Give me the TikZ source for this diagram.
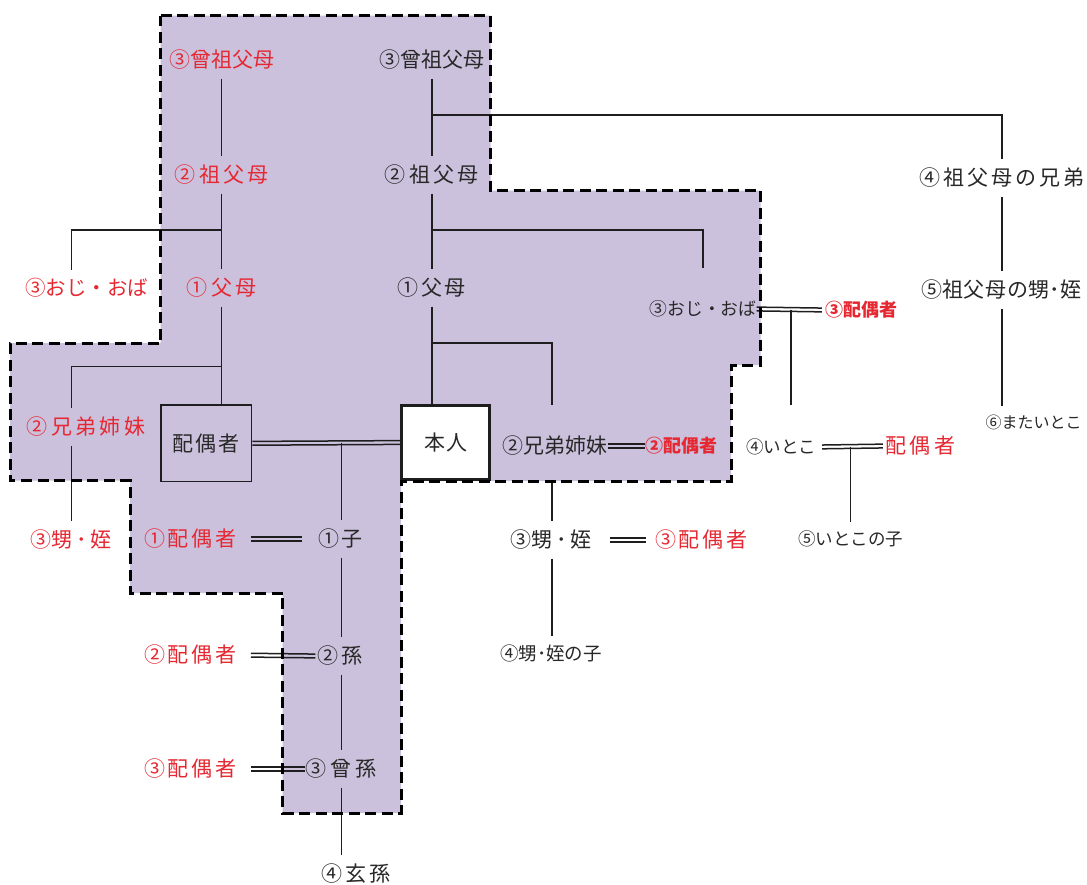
\documentclass[tikz,border=0pt]{standalone}
\usepackage{fontspec}
\setmainfont{Noto Sans CJK JP}
\usetikzlibrary{calc}
\definecolor{lav}{RGB}{204,193,221}
\definecolor{jred}{RGB}{230,40,50}
\definecolor{jblk}{RGB}{40,40,40}
\definecolor{lnc}{RGB}{30,30,30}
\makeatletter
\newcommand\lsp[2]{\def\lsp@k{#1}\lsp@a#2\relax}
\def\lsp@a#1{#1\lsp@b}
\def\lsp@b#1{\ifx\relax#1\else\kern\lsp@k\relax#1\expandafter\lsp@b\fi}
\makeatother
\newcommand\fsz[1]{\fontsize{#1pt}{#1pt}\selectfont}
\newcommand\cjkstrut{\rule[-0.12em]{0pt}{1em}}
\tikzset{
  lbl/.style={inner xsep=0pt, inner ysep=8pt, text=jblk, font=\fsz{#1}, execute at begin node=\cjkstrut},
  lbl/.default=21,
  rlbl/.style={lbl=#1, text=jred},
  rlbl/.default=21,
  rblbl/.style={rlbl=#1, font=\fsz{#1}\bfseries},
  rblbl/.default=18,
  boxn/.style={inner sep=0pt, text=jblk, font=\fsz{21}, draw=lnc, execute at begin node=\cjkstrut},
  ln/.style={draw=lnc, line width=1.2pt},
  lnb/.style={draw=lnc, line width=1.8pt},
  dl/.style={draw=lnc, line width=1.5pt},
  outline/.style={draw=black, line width=3pt, dash pattern=on 11pt off 5.5pt},
}
\newcommand\dbl[3][]{%
  \draw[dl,#1,transform canvas={yshift=1.9pt}] (#2) -- (#3);
  \draw[dl,#1,transform canvas={yshift=-1.9pt}] (#2) -- (#3);}
\begin{document}
\begin{tikzpicture}[x=1pt,y=-1pt]
\fill[white] (0,0) rectangle (1087,884);
\useasboundingbox (0,0) rectangle (1087,884);
% shaded region
\fill[lav] (160.7,15.7) -- (490.7,15.7) -- (490.7,190.7) -- (760.7,190.7) -- (760.7,365) -- (731,365) -- (731,481) -- (401,481) -- (401,813) -- (282.7,813) -- (282.7,593) -- (130,593) -- (130,480.5) -- (10,480.5) -- (10,343) -- (160.7,343) -- cycle;
% labels
\node[rlbl] (ggR) at (221.7,60) {③曾祖父母};
\node[lbl] (ggB) at (431.7,60) {③曾祖父母};
\node[rlbl] (gpR) at (221.7,175) {\lsp{3.3pt}{②祖父母}};
\node[lbl] (gpB) at (431.7,175) {\lsp{3.3pt}{②祖父母}};
\node[lbl] (gsib) at (1002,178) {\lsp{3pt}{④祖父母の兄弟}};
\node[lbl] (gneph) at (1001,290) {\lsp{0.5pt}{⑤祖父母の甥}･姪};
\node[lbl=16] (mata) at (1033.5,422) {⑥またいとこ};
\node[rlbl=20.5] (ojiR) at (86.5,288) {③おじ・おば};
\node[rlbl] (fuboR) at (221.7,288) {\lsp{3.5pt}{①父母}};
\node[lbl] (fuboB) at (431.7,288) {\lsp{2.5pt}{①父母}};
\node[lbl=17.8] (ojiB) at (703,309) {③おじ・おば};
\node[rblbl=18] (ojiSp) at (861,310) {③配偶者};
\node[boxn, fill=lav, line width=1.6pt, minimum width=90.7pt, minimum height=76.7pt] (haigusha) at (206.3,443.3) {\lsp{2pt}{配偶者}};
\node[boxn, fill=white, line width=3pt, minimum width=88pt, minimum height=74.5pt] (honnin) at (445.8,442.5) {\lsp{1.5pt}{本人}};
\node[rlbl] (sibR) at (86,427) {\lsp{3.3pt}{②兄弟姉妹}};
\node[rlbl] (neiR) at (71,540) {③甥\kern4pt･\kern4pt姪};
\node[lbl] (sibB) at (555,446) {②兄弟姉妹};
\node[rblbl=18] (sibSp) at (681,446) {②配偶者};
\node[lbl] (neiB) at (551,540) {③甥\kern4pt･\kern4pt姪};
\node[rlbl] (neiSp) at (701.5,540) {\lsp{3pt}{③配偶者}};
\node[lbl=18.5] (neiCh) at (551,653) {④甥･姪の子};
\node[lbl=17.5] (itoko) at (781,447) {④いとこ};
\node[rlbl] (itokoSp) at (920,446) {\lsp{3.5pt}{配偶者}};
\node[lbl=17.5] (itokoCh) at (850.5,539) {⑤いとこの子};
\node[rlbl] (sp1) at (190.5,539) {\lsp{3pt}{①配偶者}};
\node[lbl] (ko) at (340.5,539) {\lsp{3pt}{①子}};
\node[rlbl] (sp2) at (190.5,655) {\lsp{3pt}{②配偶者}};
\node[lbl] (mago) at (340,656) {\lsp{4pt}{②孫}};
\node[rlbl] (sp3) at (190.5,769) {\lsp{3pt}{③配偶者}};
\node[lbl] (himago) at (341,769) {\lsp{4.5pt}{③曾孫}};
\node[lbl] (genson) at (356,874) {\lsp{3pt}{④玄孫}};
% spouse-side ancestors (thin)
\draw[ln] (ggR.south) -- (gpR.north);
\draw[ln] (gpR.south) -- (fuboR.north);
\coordinate (jr1) at (221.7,230);
\coordinate (cr1) at (71.7,230);
\draw[ln] (jr1) -- (cr1) -- (cr1 |- ojiR.north);
\draw[ln] (fuboR.south) -- (fuboR.south |- haigusha.north);
\coordinate (jr2) at (221.7,366.7);
\coordinate (cr2) at (71.7,366.7);
\draw[ln] (jr2) -- (cr2) -- (cr2 |- sibR.north);
\draw[ln] (cr2 |- sibR.south) -- (cr2 |- neiR.north);
% own ancestors
\draw[lnb] (ggB.south) -- (gpB.north);
\draw[lnb] (gpB.south) -- (fuboB.north);
\draw[lnb] (fuboB.south) -- (fuboB.south |- honnin.north);
\coordinate (jb1) at (431.7,115);
\draw[lnb] (jb1) -| (gsib.north);
\draw[ln] (gsib.south) -- (gsib.south |- gneph.north);
\draw[ln] (gsib.south |- gneph.south) -- (gsib.south |- mata.north);
\coordinate (jb2) at (431.7,230);
\draw[lnb, shorten >=24pt] (jb2) -| (ojiB.north);
\coordinate (jb3) at (431.7,343.3);
\coordinate (cb3) at (552.3,343.3);
\draw[lnb, shorten >=22.5pt] (jb3) -- (cb3) -- (cb3 |- sibB.north);
\draw[lnb, shorten <=16.5pt] (cb3 |- sibB.south) -- (cb3 |- neiB.north);
\draw[lnb] (cb3 |- neiB.south) -- (cb3 |- neiCh.north);
% marriages and descendants
\dbl{haigusha.east}{honnin.west}
\coordinate (m1) at ($(haigusha.east)!0.6!(honnin.west)$);
\draw[ln] (m1) -- (m1 |- ko.north);
\dbl[shorten <=13.7pt, shorten >=16.3pt]{sp1.east}{ko.west}
\draw[ln] (m1 |- ko.south) -- (m1 |- mago.north);
\dbl[shorten <=13.7pt, shorten >=1.5pt]{sp2.east}{mago.west}
\draw[ln] (m1 |- mago.south) -- (m1 |- himago.north);
\dbl[shorten <=13.7pt]{sp3.east}{himago.west}
\draw[ln] (m1 |- himago.south) -- (m1 |- genson.north);
\dbl{sibB.east}{sibSp.west}
\dbl[shorten <=18pt, shorten >=9pt]{neiB.east}{neiSp.west}
\dbl[shorten >=3pt]{ojiB.east}{ojiSp.west}
\coordinate (m2) at ($(ojiB.east)!0.5!(ojiSp.west)$);
\draw[lnb, shorten >=25.5pt] (m2) -- (m2 |- itoko.north);
\dbl[shorten <=6pt, shorten >=2pt]{itoko.east}{itokoSp.west}
\coordinate (m3) at ($(itoko.east)!0.5!(itokoSp.west)$);
\draw[lnb] (m3) -- (m3 |- itokoCh.north);
% dashed outline
\draw[outline] (160.7,15.7) -- (490.7,15.7) -- (490.7,190.7) -- (760.7,190.7) -- (760.7,365) -- (731,365) -- (731,481) -- (401,481) -- (401,813) -- (282.7,813) -- (282.7,593) -- (130,593) -- (130,480.5) -- (10,480.5) -- (10,343) -- (160.7,343) -- cycle;
\end{tikzpicture}
\end{document}
